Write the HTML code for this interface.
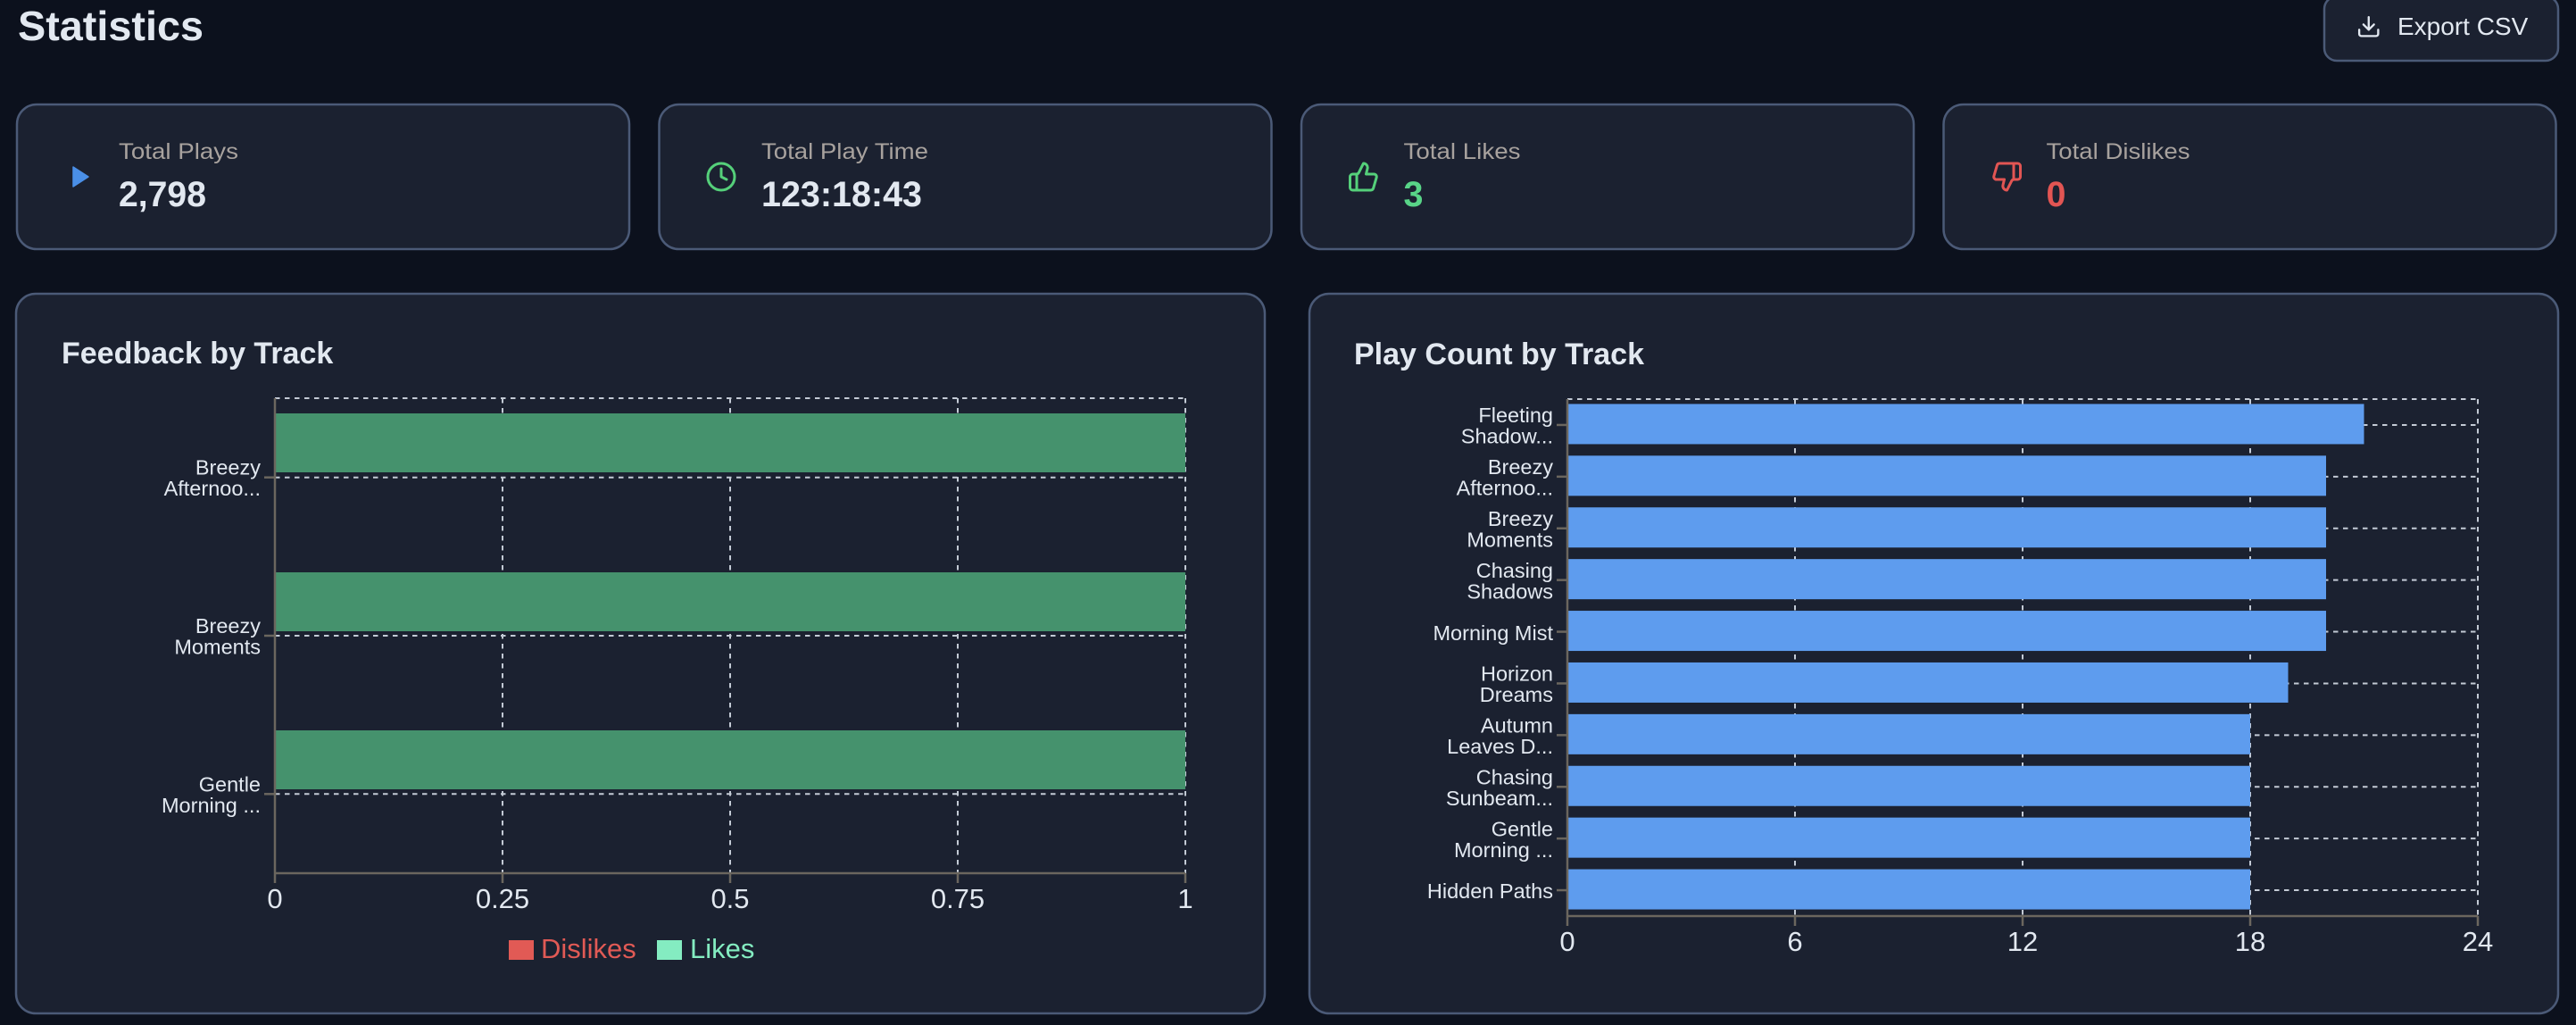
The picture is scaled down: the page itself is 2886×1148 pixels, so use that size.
<!DOCTYPE html>
<html>
<head>
<meta charset="utf-8">
<style>
html,body{margin:0;padding:0;background:#0c111d;width:2886px;height:1148px;overflow:hidden}
svg{display:block}
</style>
</head>
<body>
<svg width="2886" height="1148" viewBox="0 0 2886 1148" font-family="'Liberation Sans', Arial, sans-serif">
  <rect x="0" y="0" width="2886" height="1148" fill="#0c111d"/>

  <!-- Title -->
  <text x="20" y="45" font-size="46" font-weight="bold" fill="#e2e8f0" textLength="208" lengthAdjust="spacingAndGlyphs">Statistics</text>

  <!-- Export button -->
  <rect x="2604" y="-4" width="262" height="72" rx="14" fill="#1b2130" stroke="#4b5a77" stroke-width="2.5"/>
  <g transform="translate(2639.6,15.6) scale(1.18)" fill="none" stroke="#e2e8f0" stroke-width="2" stroke-linecap="round" stroke-linejoin="round">
    <path d="M21 15v4a2 2 0 0 1-2 2H5a2 2 0 0 1-2-2v-4"/>
    <polyline points="7 10 12 15 17 10"/>
    <line x1="12" y1="15" x2="12" y2="3"/>
  </g>
  <text x="2686" y="39" font-size="28" fill="#e2e8f0">Export CSV</text>

  <!-- Stat cards -->
  <rect x="19" y="117" width="686" height="162" rx="22" fill="#1b2130" stroke="#4b5a77" stroke-width="2.5"/>
  <rect x="738.5" y="117" width="686" height="162" rx="22" fill="#1b2130" stroke="#4b5a77" stroke-width="2.5"/>
  <rect x="1458" y="117" width="686" height="162" rx="22" fill="#1b2130" stroke="#4b5a77" stroke-width="2.5"/>
  <rect x="2177.5" y="117" width="686" height="162" rx="22" fill="#1b2130" stroke="#4b5a77" stroke-width="2.5"/>

  <!-- Card 1 -->
  <polygon points="82,187 99,198 82,209" fill="#4a8fe7" stroke="#4a8fe7" stroke-width="1.5" stroke-linejoin="round"/>
  <text x="133" y="178" font-size="25" fill="#a8a29e" textLength="134" lengthAdjust="spacingAndGlyphs">Total Plays</text>
  <text x="133" y="231" font-size="39.5" font-weight="bold" fill="#e2e8f0" textLength="98" lengthAdjust="spacingAndGlyphs">2,798</text>

  <!-- Card 2 -->
  <g transform="translate(790,180) scale(1.5)" fill="none" stroke="#55d07a" stroke-width="2" stroke-linecap="round" stroke-linejoin="round">
    <circle cx="12" cy="12" r="10"/>
    <polyline points="12 6 12 12 16 14"/>
  </g>
  <text x="853" y="178" font-size="25" fill="#a8a29e" textLength="187" lengthAdjust="spacingAndGlyphs">Total Play Time</text>
  <text x="853" y="231" font-size="39.5" font-weight="bold" fill="#e2e8f0" textLength="180" lengthAdjust="spacingAndGlyphs">123:18:43</text>

  <!-- Card 3 -->
  <g transform="translate(1509.5,180) scale(1.5)" fill="none" stroke="#55d07a" stroke-width="2" stroke-linecap="round" stroke-linejoin="round">
    <path d="M7 10v12"/>
    <path d="M15 5.88 14 10h5.83a2 2 0 0 1 1.92 2.56l-2.33 8A2 2 0 0 1 17.5 22H4a2 2 0 0 1-2-2v-8a2 2 0 0 1 2-2h2.76a2 2 0 0 0 1.79-1.11L12 2a3.13 3.13 0 0 1 3 3.88Z"/>
  </g>
  <text x="1572.5" y="178" font-size="25" fill="#a8a29e" textLength="131" lengthAdjust="spacingAndGlyphs">Total Likes</text>
  <text x="1572.5" y="231" font-size="39.5" font-weight="bold" fill="#58d487">3</text>

  <!-- Card 4 -->
  <g transform="translate(2230.5,180) scale(1.5)" fill="none" stroke="#e25553" stroke-width="2" stroke-linecap="round" stroke-linejoin="round">
    <path d="M17 14V2"/>
    <path d="M9 18.12 10 14H4.17a2 2 0 0 1-1.92-2.56l2.33-8A2 2 0 0 1 6.5 2H20a2 2 0 0 1 2 2v8a2 2 0 0 1-2 2h-2.76a2 2 0 0 0-1.79 1.11L12 22a3.13 3.13 0 0 1-3-3.88Z"/>
  </g>
  <text x="2292.5" y="178" font-size="25" fill="#a8a29e" textLength="161" lengthAdjust="spacingAndGlyphs">Total Dislikes</text>
  <text x="2292.5" y="231" font-size="39.5" font-weight="bold" fill="#e25553">0</text>

  <!-- Chart cards -->
  <rect x="18" y="329" width="1399" height="806" rx="22" fill="#1b2130" stroke="#4b5a77" stroke-width="2.5"/>
  <rect x="1467" y="329" width="1399" height="806" rx="22" fill="#1b2130" stroke="#4b5a77" stroke-width="2.5"/>

  <text x="69" y="407" font-size="34" font-weight="bold" fill="#e2e8f0">Feedback by Track</text>
  <text x="1517" y="408" font-size="34" font-weight="bold" fill="#e2e8f0">Play Count by Track</text>

  <!-- ===== Chart 1 ===== -->
  <g stroke="#c3cad5" stroke-width="2" stroke-dasharray="5.5 5.5" fill="none">
    <line x1="308" y1="446" x2="1328" y2="446"/>
    <line x1="308" y1="534.7" x2="1328" y2="534.7"/>
    <line x1="308" y1="712" x2="1328" y2="712"/>
    <line x1="308" y1="889.3" x2="1328" y2="889.3"/>
    <line x1="563" y1="446" x2="563" y2="978"/>
    <line x1="818" y1="446" x2="818" y2="978"/>
    <line x1="1073" y1="446" x2="1073" y2="978"/>
    <line x1="1328" y1="446" x2="1328" y2="978"/>
  </g>
  <g fill="#45926d">
    <rect x="308" y="463" width="1020" height="66"/>
    <rect x="308" y="641" width="1020" height="66"/>
    <rect x="308" y="818" width="1020" height="66"/>
  </g>
  <g stroke="#6b665e" stroke-width="2.5" fill="none">
    <line x1="308" y1="446" x2="308" y2="978"/>
    <line x1="308" y1="978" x2="1328" y2="978"/>
    <line x1="296" y1="534.7" x2="308" y2="534.7"/>
    <line x1="296" y1="712" x2="308" y2="712"/>
    <line x1="296" y1="889.3" x2="308" y2="889.3"/>
    <line x1="308" y1="978" x2="308" y2="989"/>
    <line x1="563" y1="978" x2="563" y2="989"/>
    <line x1="818" y1="978" x2="818" y2="989"/>
    <line x1="1073" y1="978" x2="1073" y2="989"/>
    <line x1="1328" y1="978" x2="1328" y2="989"/>
  </g>
  <g font-size="23.5" fill="#e2e8f0" text-anchor="end">
    <text x="292" y="531.5">Breezy</text>
    <text x="292" y="555">Afternoo...</text>
    <text x="292" y="709">Breezy</text>
    <text x="292" y="732.5">Moments</text>
    <text x="292" y="886.5">Gentle</text>
    <text x="292" y="910">Morning ...</text>
  </g>
  <g font-size="31" fill="#e2e8f0" text-anchor="middle">
    <text x="308" y="1017">0</text>
    <text x="563" y="1017">0.25</text>
    <text x="818" y="1017">0.5</text>
    <text x="1073" y="1017">0.75</text>
    <text x="1328" y="1017">1</text>
  </g>
  <rect x="570" y="1053" width="28" height="22" fill="#e15a55"/>
  <text x="606" y="1073" font-size="31" fill="#e15a55">Dislikes</text>
  <rect x="736" y="1053" width="28" height="22" fill="#84ecc1"/>
  <text x="773" y="1073" font-size="31" fill="#84ecc1">Likes</text>

  <!-- ===== Chart 2 ===== -->
  <g stroke="#c3cad5" stroke-width="2" stroke-dasharray="5.5 5.5" fill="none">
    <line x1="1756" y1="447" x2="2776" y2="447"/>
    <line x1="1756" y1="475.95" x2="2776" y2="475.95"/>
    <line x1="1756" y1="533.85" x2="2776" y2="533.85"/>
    <line x1="1756" y1="591.75" x2="2776" y2="591.75"/>
    <line x1="1756" y1="649.65" x2="2776" y2="649.65"/>
    <line x1="1756" y1="707.55" x2="2776" y2="707.55"/>
    <line x1="1756" y1="765.45" x2="2776" y2="765.45"/>
    <line x1="1756" y1="823.35" x2="2776" y2="823.35"/>
    <line x1="1756" y1="881.25" x2="2776" y2="881.25"/>
    <line x1="1756" y1="939.15" x2="2776" y2="939.15"/>
    <line x1="1756" y1="997.05" x2="2776" y2="997.05"/>
    <line x1="2011" y1="447" x2="2011" y2="1026"/>
    <line x1="2266" y1="447" x2="2266" y2="1026"/>
    <line x1="2521" y1="447" x2="2521" y2="1026"/>
    <line x1="2776" y1="447" x2="2776" y2="1026"/>
  </g>
  <g fill="#5e9cee">
    <rect x="1756" y="452.45" width="892.5" height="45"/>
    <rect x="1756" y="510.35" width="850" height="45"/>
    <rect x="1756" y="568.25" width="850" height="45"/>
    <rect x="1756" y="626.15" width="850" height="45"/>
    <rect x="1756" y="684.05" width="850" height="45"/>
    <rect x="1756" y="741.95" width="807.5" height="45"/>
    <rect x="1756" y="799.85" width="765" height="45"/>
    <rect x="1756" y="857.75" width="765" height="45"/>
    <rect x="1756" y="915.65" width="765" height="45"/>
    <rect x="1756" y="973.55" width="765" height="45"/>
  </g>
  <g stroke="#6b665e" stroke-width="2.5" fill="none">
    <line x1="1756" y1="447" x2="1756" y2="1026"/>
    <line x1="1756" y1="1026" x2="2776" y2="1026"/>
    <line x1="1744" y1="475.95" x2="1756" y2="475.95"/>
    <line x1="1744" y1="533.85" x2="1756" y2="533.85"/>
    <line x1="1744" y1="591.75" x2="1756" y2="591.75"/>
    <line x1="1744" y1="649.65" x2="1756" y2="649.65"/>
    <line x1="1744" y1="707.55" x2="1756" y2="707.55"/>
    <line x1="1744" y1="765.45" x2="1756" y2="765.45"/>
    <line x1="1744" y1="823.35" x2="1756" y2="823.35"/>
    <line x1="1744" y1="881.25" x2="1756" y2="881.25"/>
    <line x1="1744" y1="939.15" x2="1756" y2="939.15"/>
    <line x1="1744" y1="997.05" x2="1756" y2="997.05"/>
    <line x1="1756" y1="1026" x2="1756" y2="1037"/>
    <line x1="2011" y1="1026" x2="2011" y2="1037"/>
    <line x1="2266" y1="1026" x2="2266" y2="1037"/>
    <line x1="2521" y1="1026" x2="2521" y2="1037"/>
    <line x1="2776" y1="1026" x2="2776" y2="1037"/>
  </g>
  <g font-size="23.5" fill="#e2e8f0" text-anchor="end">
    <text x="1740" y="473">Fleeting</text>
    <text x="1740" y="496.5">Shadow...</text>
    <text x="1740" y="531">Breezy</text>
    <text x="1740" y="554.5">Afternoo...</text>
    <text x="1740" y="589">Breezy</text>
    <text x="1740" y="612.5">Moments</text>
    <text x="1740" y="647">Chasing</text>
    <text x="1740" y="670.5">Shadows</text>
    <text x="1740" y="717">Morning Mist</text>
    <text x="1740" y="762.5">Horizon</text>
    <text x="1740" y="786">Dreams</text>
    <text x="1740" y="820.5">Autumn</text>
    <text x="1740" y="844">Leaves D...</text>
    <text x="1740" y="878.5">Chasing</text>
    <text x="1740" y="902">Sunbeam...</text>
    <text x="1740" y="936.5">Gentle</text>
    <text x="1740" y="960">Morning ...</text>
    <text x="1740" y="1006">Hidden Paths</text>
  </g>
  <g font-size="31" fill="#e2e8f0" text-anchor="middle">
    <text x="1756" y="1065">0</text>
    <text x="2011" y="1065">6</text>
    <text x="2266" y="1065">12</text>
    <text x="2521" y="1065">18</text>
    <text x="2776" y="1065">24</text>
  </g>
</svg>
</body>
</html>
